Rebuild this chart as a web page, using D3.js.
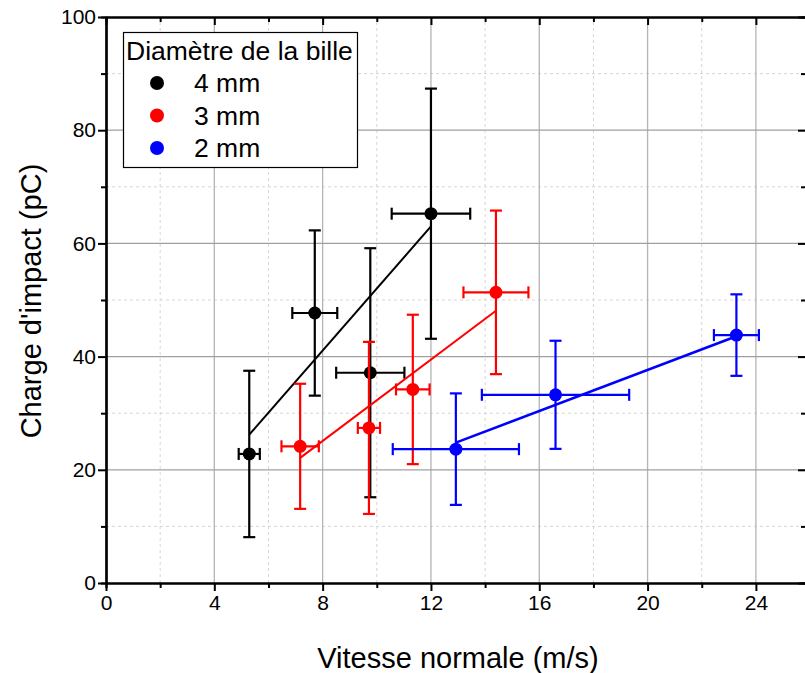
<!DOCTYPE html>
<html>
<head>
<meta charset="utf-8">
<script src="https://cdn.jsdelivr.net/npm/d3@7"></script>
<style>
body{margin:0;background:#fff;}
svg{display:block;font-family:"Liberation Sans",Arial,sans-serif;}
</style>
</head>
<body>
<div id="grafico"></div>
<script>
// valeurs
var series=["4 mm","3 mm","2 mm"];
var couleurs=["#000000","#ff0000","#0000ff"];

var vitesse4=[5.29,7.71,9.76,12.0], errV4=[0.39,0.83,1.26,1.45];
var charge4=[22.8,47.7,37.15,65.25], errQ4=[14.7,14.6,22.0,22.1];

var vitesse3=[7.17,9.71,11.33,14.4], errV3=[0.69,0.41,0.62,1.2];
var charge3=[24.15,27.4,34.2,51.35], errQ3=[11.05,15.2,13.2,14.45];

var vitesse2=[12.92,16.6,23.28], errV2=[2.33,2.72,0.83];
var charge2=[23.65,33.25,43.8], errQ2=[9.85,9.55,7.2];

// droites d'ajustement [x1,y1,x2,y2]
var ajust4=[5.29,26.2,12.0,63.0];
var ajust3=[7.17,22.1,14.4,48.1];
var ajust2=[12.92,24.8,23.28,43.6];

var ticksX=[0,4,8,12,16,20,24];
var ticksY=[0,20,40,60,80,100];

fig();
function fig(){
	var W=805,H=673;
	var margin={top:17,left:106,right:-1,bottom:90};
	var svg=d3.select("#grafico").append("svg")
		.attr("width",W).attr("height",H);

	var x=d3.scaleLinear().domain([0,25.85]).range([margin.left,W-margin.right]);
	var y=d3.scaleLinear().domain([0,100]).range([H-margin.bottom,margin.top]);

	var datos=[
		{vx:vitesse4,ex:errV4,q:charge4,eq:errQ4,fit:ajust4},
		{vx:vitesse3,ex:errV3,q:charge3,eq:errQ3,fit:ajust3},
		{vx:vitesse2,ex:errV2,q:charge2,eq:errQ2,fit:ajust2}
	];

	var minX=d3.range(2,26,4), minY=d3.range(10,100,20);
	var x0=x.range()[0], x1=x.range()[1], y0=y.range()[0], y1=y.range()[1];

	// grille
	var g=svg.append("g");
	g.selectAll(".minx").data(minX).enter().append("line")
		.attr("x1",d=>x(d)).attr("x2",d=>x(d)).attr("y1",y0).attr("y2",y1)
		.style("stroke","#d6d6d6").style("stroke-dasharray","3 3").style("stroke-width",1);
	g.selectAll(".miny").data(minY).enter().append("line")
		.attr("y1",d=>y(d)).attr("y2",d=>y(d)).attr("x1",x0).attr("x2",x1)
		.style("stroke","#d6d6d6").style("stroke-dasharray","3 3").style("stroke-width",1);
	g.selectAll(".majx").data(ticksX.slice(1)).enter().append("line")
		.attr("x1",d=>x(d)).attr("x2",d=>x(d)).attr("y1",y0).attr("y2",y1)
		.style("stroke","#b4b4b4").style("stroke-width",1.3);
	g.selectAll(".majy").data(ticksY.slice(1,-1)).enter().append("line")
		.attr("y1",d=>y(d)).attr("y2",d=>y(d)).attr("x1",x0).attr("x2",x1)
		.style("stroke","#a0a0a0").style("stroke-width",1.3);

	// axes
	function estilo(sel){
		sel.select(".domain").style("stroke","#000").style("stroke-width",2.2);
		sel.selectAll(".tick line").style("stroke","#000").style("stroke-width",2);
		sel.selectAll("text").style("font-size","21px").style("fill","#000")
			.style("font-family","'Liberation Sans',Arial,sans-serif");
	}
	// mineurs
	svg.append("g").attr("transform",`translate(0,${y0})`)
		.call(d3.axisBottom(x).tickValues(minX).tickSize(5).tickFormat("")).call(estilo);
	svg.append("g").attr("transform",`translate(0,${y1})`)
		.call(d3.axisTop(x).tickValues(minX).tickSize(-5).tickFormat("")).call(estilo);
	svg.append("g").attr("transform",`translate(${x0},0)`)
		.call(d3.axisLeft(y).tickValues(minY).tickSize(5).tickFormat("")).call(estilo);
	svg.append("g").attr("transform",`translate(${x1},0)`)
		.call(d3.axisRight(y).tickValues(minY).tickSize(-5).tickFormat("")).call(estilo);
	// majeurs
	svg.append("g").attr("transform",`translate(0,${y0})`)
		.call(d3.axisBottom(x).tickValues(ticksX).tickSize(8).tickPadding(4).tickSizeOuter(0)).call(estilo);
	svg.append("g").attr("transform",`translate(0,${y1})`)
		.call(d3.axisTop(x).tickValues(ticksX).tickSize(-8).tickFormat("").tickSizeOuter(0)).call(estilo);
	svg.append("g").attr("transform",`translate(${x0},0)`)
		.call(d3.axisLeft(y).tickValues(ticksY).tickSize(8).tickPadding(2).tickSizeOuter(0)).call(estilo);
	svg.append("g").attr("transform",`translate(${x1},0)`)
		.call(d3.axisRight(y).tickValues(ticksY).tickSize(-8).tickFormat("").tickSizeOuter(0)).call(estilo);

	// séries
	datos.forEach(function(s,i){
		var c=couleurs[i];
		var gs=svg.append("g");
		gs.append("line")
			.attr("x1",x(s.fit[0])).attr("y1",y(s.fit[1]))
			.attr("x2",x(s.fit[2])).attr("y2",y(s.fit[3]))
			.style("stroke",c).style("stroke-width",i==2?2.6:2);
		var pts=s.vx.map((v,j)=>({v:v,ev:s.ex[j],q:s.q[j],eq:s.eq[j]}));
		var cap=6;
		pts.forEach(function(p){
			var e=gs.append("g").style("stroke",c).style("stroke-width",2.2);
			e.append("line").attr("x1",x(p.v)).attr("x2",x(p.v)).attr("y1",y(p.q-p.eq)).attr("y2",y(p.q+p.eq));
			e.append("line").attr("x1",x(p.v)-cap).attr("x2",x(p.v)+cap).attr("y1",y(p.q-p.eq)).attr("y2",y(p.q-p.eq));
			e.append("line").attr("x1",x(p.v)-cap).attr("x2",x(p.v)+cap).attr("y1",y(p.q+p.eq)).attr("y2",y(p.q+p.eq));
			e.append("line").attr("x1",x(p.v-p.ev)).attr("x2",x(p.v+p.ev)).attr("y1",y(p.q)).attr("y2",y(p.q));
			e.append("line").attr("x1",x(p.v-p.ev)).attr("x2",x(p.v-p.ev)).attr("y1",y(p.q)-cap).attr("y2",y(p.q)+cap);
			e.append("line").attr("x1",x(p.v+p.ev)).attr("x2",x(p.v+p.ev)).attr("y1",y(p.q)-cap).attr("y2",y(p.q)+cap);
		});
		gs.selectAll(".pt").data(pts).enter().append("circle")
			.attr("cx",d=>x(d.v)).attr("cy",d=>y(d.q)).attr("r",6.5).style("fill",c);
	});

	// légende
	var leg=svg.append("g");
	leg.append("rect").attr("x",123.5).attr("y",32.5).attr("width",234).attr("height",135)
		.style("fill","#fff").style("stroke","#000").style("stroke-width",1.2);
	leg.append("text").attr("x",126).attr("y",60).text("Diamètre de la bille")
		.style("font-size","26.5px");
	series.forEach(function(s,i){
		leg.append("circle").attr("cx",157).attr("cy",83+i*32.5).attr("r",7).style("fill",couleurs[i]);
		leg.append("text").attr("x",194).attr("y",92+i*32.5).text(s).style("font-size","26.5px");
	});

	// titres
	svg.append("text").attr("x",(x0+x1)/2+2).attr("y",668).attr("text-anchor","middle")
		.text("Vitesse normale (m/s)").style("font-size","29px");
	svg.append("text").attr("transform",`translate(41,${(y0+y1)/2+1}) rotate(-90)`)
		.attr("text-anchor","middle").text("Charge d'impact (pC)").style("font-size","29px");
}
</script>
</body>
</html>
